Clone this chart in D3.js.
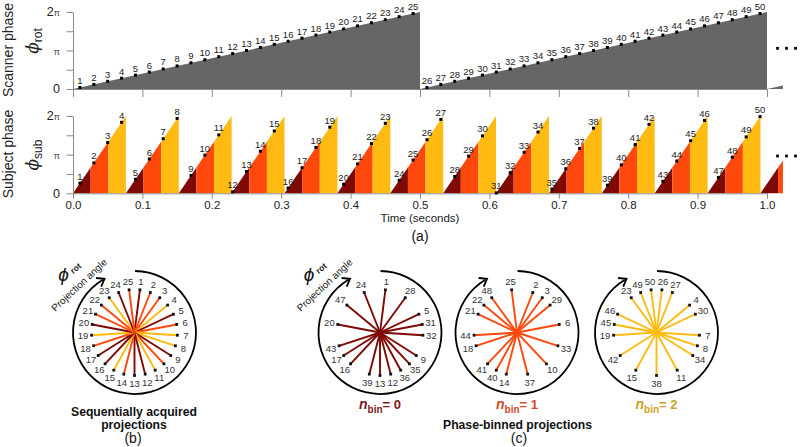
<!DOCTYPE html>
<html><head><meta charset="utf-8">
<script src="https://cdn.jsdelivr.net/npm/d3@7"></script>
<style>
body{margin:0;background:#fff}
text{font-family:"Liberation Sans",Arial,Helvetica,sans-serif}
</style>
</head><body>
<svg id="fig" width="800" height="447"></svg>
<script>
// ---------------- data ----------------
const projId = [1,2,3,4,5,6,7,8,9,10,11,12,13,14,15,16,17,18,19,20,21,22,23,24,25,
                26,27,28,29,30,31,32,33,34,35,36,37,38,39,40,41,42,43,44,45,46,47,48,49,50];
const projTime = [0.01,0.03,0.05,0.07,0.09,0.11,0.13,0.15,0.17,0.19,0.21,0.23,0.25,0.27,0.29,0.31,0.33,0.35,0.37,0.39,0.41,0.43,0.45,0.47,0.49,
                  0.51,0.53,0.55,0.57,0.59,0.61,0.63,0.65,0.67,0.69,0.71,0.73,0.75,0.77,0.79,0.81,0.83,0.85,0.87,0.89,0.91,0.93,0.95,0.97,0.99];
// phases in units of pi
const scannerPhasePi = [0.04,0.12,0.20,0.28,0.36,0.44,0.52,0.60,0.68,0.76,0.84,0.92,1.00,1.08,1.16,1.24,1.32,1.40,1.48,1.56,1.64,1.72,1.80,1.88,1.96,
                        0.04,0.12,0.20,0.28,0.36,0.44,0.52,0.60,0.68,0.76,0.84,0.92,1.00,1.08,1.16,1.24,1.32,1.40,1.48,1.56,1.64,1.72,1.80,1.88,1.96];
const subjectPhasePi = [0.262,0.787,1.312,1.837,0.362,0.887,1.412,1.937,0.462,0.987,1.512,0.037,0.562,1.087,1.612,0.136,0.661,1.186,1.711,0.236,0.761,1.286,1.811,0.336,0.861,
                        1.386,1.911,0.436,0.961,1.486,0.010,0.535,1.060,1.585,0.110,0.635,1.160,1.685,0.210,0.735,1.260,1.785,0.310,0.835,1.360,1.885,0.409,0.934,1.459,1.984];
const phaseBin = [0,1,1,2,0,1,2,2,0,1,2,0,0,1,2,0,0,1,2,0,1,1,2,0,1,
                  2,2,0,1,2,0,0,1,2,0,0,1,2,0,1,1,2,0,1,2,2,0,1,2,2];
const scannerRampStart = [0, 0.5, 1.0];
const scannerRampEnd = [0.5, 1.0, 1.023];
const scannerRampEndPhasePi = [2, 2, 0.092];
const subjectCycleStart = [0,0.0762,0.1524,0.2286,0.3048,0.381,0.4572,0.5334,0.6096,0.6858,0.762,0.8382,0.9144,0.9906];
const subjectPeriod = 0.0762;
const subjectEnd = 1.023;
const xTicks = [0,0.1,0.2,0.3,0.4,0.5,0.6,0.7,0.8,0.9,1.0];
const xTickLabels = ["0.0","0.1","0.2","0.3","0.4","0.5","0.6","0.7","0.8","0.9","1.0"];
const yTicksPi = [0,0.5,1,1.5,2];
const yTickLabels = [["0",""],["",""],["","π"],["",""],["2","π"]];
const binNames = [0,1,2];
const binColors = ["#7f0a04","#ff480c","#ffbb12"];
const binLabelColors = ["#7a1c1c","#d44a2a","#c9a227"];

// ---------------- layout ----------------
const svg = d3.select("#fig");
svg.append("rect").attr("width",800).attr("height",447).attr("fill","#fff");
const x = d3.scaleLinear().domain([0,1]).range([73,767]);
const yTop = d3.scaleLinear().domain([0,2]).range([89,12]);
const yBot = d3.scaleLinear().domain([0,2]).range([193.3,116]);
const axisColor = "#8a8a8a";
const line = d3.line();

// ---- top panel: scanner phase ----
const gTop = svg.append("g");
scannerRampStart.forEach((s,i)=>{
  const pts = [[s,0],[scannerRampEnd[i],scannerRampEndPhasePi[i]],[scannerRampEnd[i],0]]
    .map(d=>[x(d[0]),yTop(d[1])]);
  gTop.append("path").attr("d",line(pts)+"Z").attr("fill","#666666");
});

function styleAxis(g){
  g.selectAll("path,line").attr("stroke",axisColor).attr("stroke-width",1);
}
gTop.append("g").attr("transform","translate(0,89)")
  .call(d3.axisBottom(x).tickValues(xTicks).tickSize(8).tickSizeOuter(0).tickFormat(""))
  .call(styleAxis);
gTop.append("g").attr("transform","translate(73,0)")
  .call(d3.axisLeft(yTop).tickValues(yTicksPi).tickSize(6.5).tickSizeOuter(0).tickFormat(""))
  .call(styleAxis);

function yLabels(g, scale){
  yTicksPi.forEach((v,i)=>{
    const [a,b] = yTickLabels[i];
    if(!a && !b) return;
    const t = g.append("text").attr("x",60).attr("y",scale(v)+4.2).attr("text-anchor","end").attr("fill","#222");
    if(a) t.append("tspan").attr("font-size",12.5).text(a);
    if(b) t.append("tspan").attr("font-size",9).attr("fill","#444").text(b);
  });
}
yLabels(gTop, yTop);

const firstRot = projId.map((id,i)=>({id, t:projTime[i], p:scannerPhasePi[i], s:subjectPhasePi[i], bin:phaseBin[i]}));

gTop.selectAll("rect.pt").data(firstRot).join("rect")
  .attr("x",d=>x(d.t)-1.5).attr("y",d=>yTop(d.p)-1.5).attr("width",3).attr("height",3).attr("fill","#000");
gTop.selectAll("text.lb").data(firstRot).join("text")
  .attr("x",d=>x(d.t)).attr("y",d=>yTop(d.p)-3.5).attr("text-anchor","middle")
  .attr("font-size",9.5).attr("fill","#222").text(d=>d.id);

// ---- bottom panel: subject phase ----
const gBot = svg.append("g");
subjectCycleStart.forEach(s=>{
  const e = Math.min(s+subjectPeriod, subjectEnd);
  binNames.forEach(b=>{
    const t0 = s + b*subjectPeriod/3;
    if(t0 >= e) return;
    const t1 = Math.min(s+(b+1)*subjectPeriod/3, e);
    const ph = t=>2*(t-s)/subjectPeriod;
    const pts = [[t0,0],[t0,ph(t0)],[t1,ph(t1)],[t1,0]].map(d=>[x(d[0]),yBot(d[1])]);
    gBot.append("path").attr("d",line(pts)+"Z").attr("fill",binColors[b]);
  });
});
const xAxB = gBot.append("g").attr("transform","translate(0,193.3)")
  .call(d3.axisBottom(x).tickValues(xTicks).tickSize(5.5).tickSizeOuter(0).tickPadding(2.5)
        .tickFormat((d,i)=>xTickLabels[i]))
  .call(styleAxis);
xAxB.selectAll("text").attr("font-size",11.5).attr("fill","#222")
  .attr("font-family","'Liberation Sans',Arial,sans-serif");
gBot.append("g").attr("transform","translate(73,0)")
  .call(d3.axisLeft(yBot).tickValues(yTicksPi).tickSize(6.5).tickSizeOuter(0).tickFormat(""))
  .call(styleAxis);
yLabels(gBot, yBot);

gBot.selectAll("rect.pt").data(firstRot).join("rect")
  .attr("x",d=>x(d.t)-1.5).attr("y",d=>yBot(d.s)-1.5).attr("width",3).attr("height",3).attr("fill","#000");
gBot.selectAll("text.lb").data(firstRot).join("text")
  .attr("x",d=>x(d.t)).attr("y",d=>yBot(d.s)-3.5).attr("text-anchor","middle")
  .attr("font-size",9.5).attr("fill","#222").text(d=>d.id);

// ellipses
[48.3,156].forEach(yy=>{
  [777.5,786.5,795.5].forEach(xx=>{
    svg.append("rect").attr("x",xx-1.4).attr("y",yy-1.4).attr("width",2.8).attr("height",2.8).attr("fill","#000");
  });
});

// axis titles
function rotLabel(cx, cy, txt){
  svg.append("text").attr("transform",`translate(${cx},${cy}) rotate(-90)`)
    .attr("text-anchor","middle").attr("font-size",14).attr("fill","#222").text(txt);
}
rotLabel(13, 50, "Scanner phase");
rotLabel(13, 154, "Subject phase");
function phiLabel(cx, cy, sub){
  const t = svg.append("text").attr("transform",`translate(${cx},${cy}) rotate(-90)`)
    .attr("text-anchor","middle").attr("fill","#222");
  t.append("tspan").attr("font-family","'DejaVu Serif',serif").attr("font-style","italic").attr("font-size",17).text("ϕ");
  t.append("tspan").attr("font-size",12).attr("dy",3.5).text(sub);
}
phiLabel(38, 41, "rot");
phiLabel(38, 155, "sub");

svg.append("text").attr("x",420).attr("y",222).attr("text-anchor","middle")
  .attr("font-size",11.5).attr("fill","#222").text("Time (seconds)");
svg.append("text").attr("x",420).attr("y",241).attr("text-anchor","middle")
  .attr("font-family","'Liberation Serif','Times New Roman',serif").attr("font-size",14).attr("fill","#111").text("(a)");

// ---------------- circle diagrams ----------------
const circleCx = [134.5, 380, 517, 656.5];
const circleCy = 332.5;
const R = 61.5, spokeR = 43, labelR = 51.5;

function circleDiagram(cx, data, colorFn, withLabel){
  const g = svg.append("g");
  const pos = (aPi, r)=>[cx + r*Math.sin(aPi*Math.PI), circleCy - r*Math.cos(aPi*Math.PI)];
  // arc
  const a0 = -Math.PI/2 + 0.5*Math.PI/180;
  const endDeg = 329;
  const a1 = -Math.PI/2 + endDeg*Math.PI/180;
  const p = d3.path(); p.arc(cx, circleCy, R, a0, a1, false);
  g.append("path").attr("d",p.toString()).attr("fill","none").attr("stroke","#000").attr("stroke-width",1.8);
  // arrowhead
  const th = endDeg*Math.PI/180;
  const tip = [cx + R*Math.sin(th) + 2*Math.cos(th), circleCy - R*Math.cos(th) + 2*Math.sin(th)];
  const back = Math.atan2(-Math.sin(th), -Math.cos(th));
  const L = 8.5, spread = 36*Math.PI/180;
  const arm1 = [tip[0]+L*Math.cos(back+spread), tip[1]+L*Math.sin(back+spread)];
  const arm2 = [tip[0]+L*Math.cos(back-spread), tip[1]+L*Math.sin(back-spread)];
  g.append("path").attr("d",line([arm1,tip,arm2])).attr("fill","none").attr("stroke","#000")
    .attr("stroke-width",1.8).attr("stroke-linejoin","miter");
  // spokes
  g.selectAll("line.sp").data(data).join("line")
    .attr("x1",cx).attr("y1",circleCy)
    .attr("x2",d=>pos(d.p,spokeR)[0]).attr("y2",d=>pos(d.p,spokeR)[1])
    .attr("stroke",d=>colorFn(d)).attr("stroke-width",1.9);
  g.selectAll("rect.dt").data(data).join("rect")
    .attr("x",d=>pos(d.p,spokeR)[0]-1.4).attr("y",d=>pos(d.p,spokeR)[1]-1.4)
    .attr("width",2.8).attr("height",2.8).attr("fill","#111");
  g.selectAll("text.lb").data(data).join("text")
    .attr("x",d=>pos(d.p,labelR)[0]).attr("y",d=>pos(d.p,labelR)[1]+3.4)
    .attr("text-anchor","middle").attr("font-size",9.5).attr("fill","#333").text(d=>d.id);
  if(withLabel){
    g.append("text").attr("x",cx-71).attr("y",circleCy-52)
      .attr("text-anchor","middle").attr("font-family","'DejaVu Serif',serif").attr("font-style","italic")
      .attr("font-size",19).attr("fill","#111").text("ϕ");
    g.append("text").attr("transform",`translate(${cx-57},${circleCy-62}) rotate(-40)`)
      .attr("text-anchor","middle").attr("font-size",8.5).attr("font-weight","bold").attr("fill","#222").text("rot");
    g.append("text").attr("transform",`translate(${cx-53},${circleCy-45}) rotate(-43)`)
      .attr("text-anchor","middle").attr("font-size",10).attr("fill","#222").text("Projection angle");
  }
  return g;
}

// (b) sequential: first rotation (projections 1..25)
const seq = firstRot.filter(d=>d.id<=25);
circleDiagram(circleCx[0], seq, d=>binColors[d.bin], true);
svg.append("text").attr("x",134).attr("y",416).attr("text-anchor","middle")
  .attr("font-size",12.2).attr("font-weight","bold").attr("fill","#111").text("Sequentially acquired");
svg.append("text").attr("x",134).attr("y",428.5).attr("text-anchor","middle")
  .attr("font-size",12.2).attr("font-weight","bold").attr("fill","#111").text("projections");
svg.append("text").attr("x",133).attr("y",443).attr("text-anchor","middle")
  .attr("font-family","'Liberation Serif','Times New Roman',serif").attr("font-size",14).attr("fill","#111").text("(b)");

// (c) phase-binned
binNames.forEach(b=>{
  const cx = circleCx[b+1];
  const sub = firstRot.filter(d=>d.bin===b);
  circleDiagram(cx, sub, ()=>binColors[b], b===0);
  const t = svg.append("text").attr("x",cx).attr("y",409).attr("text-anchor","middle")
    .attr("font-weight","bold").attr("fill",binLabelColors[b]);
  t.append("tspan").attr("font-size",14).attr("font-style","italic").text("n");
  t.append("tspan").attr("font-size",10).attr("dy",4).text("bin");
  t.append("tspan").attr("font-size",13).attr("dy",-4).text("= " + b);
});
svg.append("text").attr("x",517.5).attr("y",428.5).attr("text-anchor","middle")
  .attr("font-size",12.2).attr("font-weight","bold").attr("fill","#111").text("Phase-binned projections");
svg.append("text").attr("x",519).attr("y",443).attr("text-anchor","middle")
  .attr("font-family","'Liberation Serif','Times New Roman',serif").attr("font-size",14).attr("fill","#111").text("(c)");
</script>
</body></html>
